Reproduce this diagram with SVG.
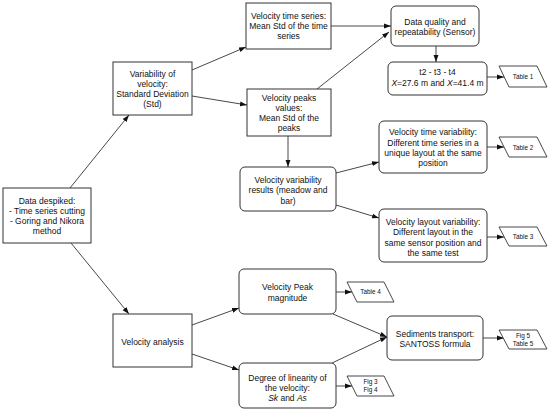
<svg xmlns="http://www.w3.org/2000/svg" width="550" height="412" viewBox="0 0 550 412">
<defs>
<style>
.box{fill:#fff;stroke:#333;stroke-width:1}
.data{fill:#fff;stroke:#333;stroke-width:0.9}
.t{font-family:"Liberation Sans",Arial,sans-serif;font-size:8.5px;fill:#111;text-anchor:middle}
.s{font-family:"Liberation Sans",Arial,sans-serif;font-size:6.4px;fill:#111;text-anchor:middle}
.c{fill:none;stroke:#333;stroke-width:0.9;marker-end:url(#ah)}
</style>
<marker id="ah" viewBox="0 0 10 10" refX="10" refY="5" markerWidth="7" markerHeight="7" markerUnits="userSpaceOnUse" orient="auto">
<path d="M0,1.5 L10,5 L0,8.5 Z" fill="#111"/>
</marker>
</defs>
<rect width="550" height="412" fill="#fff"/>
<g id="connectors">
<line class="c" x1="70" y1="188" x2="129" y2="115"/>
<line class="c" x1="71" y1="243" x2="129" y2="314"/>
<line class="c" x1="192" y1="70" x2="246" y2="47"/>
<line class="c" x1="192" y1="96" x2="247" y2="105"/>
<line class="c" x1="331" y1="26" x2="391" y2="26"/>
<line class="c" x1="317" y1="89" x2="389" y2="32"/>
<line class="c" x1="436" y1="46" x2="436" y2="62"/>
<line class="c" x1="487" y1="77" x2="504" y2="77"/>
<line class="c" x1="288" y1="136" x2="288" y2="167"/>
<line class="c" x1="336" y1="173" x2="379" y2="162"/>
<line class="c" x1="336" y1="205" x2="379" y2="218"/>
<line class="c" x1="487" y1="147" x2="504" y2="147"/>
<line class="c" x1="487" y1="237" x2="504" y2="237"/>
<line class="c" x1="192" y1="325" x2="239" y2="308"/>
<line class="c" x1="192" y1="354" x2="239" y2="370"/>
<line class="c" x1="336" y1="292" x2="352" y2="292"/>
<line class="c" x1="336" y1="386" x2="352" y2="386"/>
<polyline class="c" points="333,314 387,337"/>
<polyline class="c" points="332,363 387,337"/>
<line class="c" x1="483" y1="338" x2="504" y2="338"/>
</g>
<g id="A">
<rect class="box" x="3" y="188" width="88" height="55"/>
<text class="t" x="47" y="204">Data despiked:</text>
<text class="t" x="47" y="214">- Time series cutting</text>
<text class="t" x="47" y="224">- Goring and Nikora</text>
<text class="t" x="47" y="234">method</text>
</g>
<g id="B">
<rect class="box" x="113" y="62" width="79" height="53"/>
<text class="t" x="152.5" y="77">Variability of</text>
<text class="t" x="152.5" y="87">velocity:</text>
<text class="t" x="152.5" y="97">Standard Deviation</text>
<text class="t" x="152.5" y="107">(Std)</text>
</g>
<g id="C">
<rect class="box" x="246" y="3" width="85" height="46"/>
<text class="t" x="288.5" y="19">Velocity time series:</text>
<text class="t" x="288.5" y="29">Mean Std of the time</text>
<text class="t" x="288.5" y="39">series</text>
</g>
<g id="D">
<rect class="box" x="247" y="89" width="84" height="47"/>
<text class="t" x="289" y="101">Velocity peaks</text>
<text class="t" x="289" y="111">values:</text>
<text class="t" x="289" y="121">Mean Std of the</text>
<text class="t" x="289" y="131">peaks</text>
</g>
<g id="E">
<rect class="box" x="240" y="167" width="96" height="44" rx="5"/>
<text class="t" x="288" y="183">Velocity variability</text>
<text class="t" x="288" y="193">results (meadow and</text>
<text class="t" x="288" y="203.5">bar)</text>
</g>
<g id="H">
<rect class="box" x="113" y="314" width="79" height="53"/>
<text class="t" x="152.5" y="345">Velocity analysis</text>
</g>
<g id="F">
<rect class="box" x="239" y="269" width="97" height="45" rx="5"/>
<text class="t" x="287.5" y="290">Velocity Peak</text>
<text class="t" x="287.5" y="300.5">magnitude</text>
</g>
<g id="G">
<rect class="box" x="239" y="363" width="97" height="45" rx="5"/>
<text class="t" x="287.5" y="381">Degree of linearity of</text>
<text class="t" x="287.5" y="391">the velocity:</text>
<text class="t" x="287.5" y="401"><tspan font-style="italic">Sk</tspan> and <tspan font-style="italic">As</tspan></text>
</g>
<g id="I">
<rect class="box" x="391" y="6" width="88" height="40" rx="5"/>
<text class="t" x="435" y="25">Data quality and</text>
<text class="t" x="435" y="35">repeatability (Sensor)</text>
</g>
<g id="J">
<rect class="box" x="388" y="62" width="99" height="33" rx="5"/>
<text class="t" x="437.5" y="75">t2 - t3 - t4</text>
<text class="t" x="437.5" y="86"><tspan font-style="italic">X</tspan>=27.6 m and <tspan font-style="italic">X</tspan>=41.4 m</text>
</g>
<g id="K">
<rect class="box" x="379" y="121" width="108" height="52" rx="5"/>
<text class="t" x="433" y="135">Velocity time variability:</text>
<text class="t" x="433" y="145.5">Different time series in a</text>
<text class="t" x="433" y="156">unique layout at the same</text>
<text class="t" x="433" y="166">position</text>
</g>
<g id="L">
<rect class="box" x="379" y="209" width="108" height="53" rx="5"/>
<text class="t" x="433" y="225">Velocity layout variability:</text>
<text class="t" x="433" y="235">Different layout in the</text>
<text class="t" x="433" y="245.5">same sensor position and</text>
<text class="t" x="433" y="255.5">the same test</text>
</g>
<g id="M">
<rect class="box" x="387" y="316" width="96" height="44" rx="5"/>
<text class="t" x="435" y="337">Sediments transport:</text>
<text class="t" x="435" y="347">SANTOSS formula</text>
</g>
<g id="T1">
<polygon class="data" points="499,66 537,66 547,87 509,87"/>
<text class="s" x="523" y="79">Table 1</text>
</g>
<g id="T2">
<polygon class="data" points="499,137 537,137 547,157 509,157"/>
<text class="s" x="523" y="149.5">Table 2</text>
</g>
<g id="T3">
<polygon class="data" points="499,227 537,227 547,246 509,246"/>
<text class="s" x="523" y="239">Table 3</text>
</g>
<g id="T4">
<polygon class="data" points="347,282 384,282 394,302 357,302"/>
<text class="s" x="370.5" y="294">Table 4</text>
</g>
<g id="F34">
<polygon class="data" points="347,376 384,376 394,396 357,396"/>
<text class="s" x="370.5" y="384">Fig 3</text>
<text class="s" x="370.5" y="392">Fig 4</text>
</g>
<g id="F5T5">
<polygon class="data" points="499,330 537,330 547,349 509,349"/>
<text class="s" x="523" y="338">Fig 5</text>
<text class="s" x="523" y="346">Table 5</text>
</g>
</svg>
